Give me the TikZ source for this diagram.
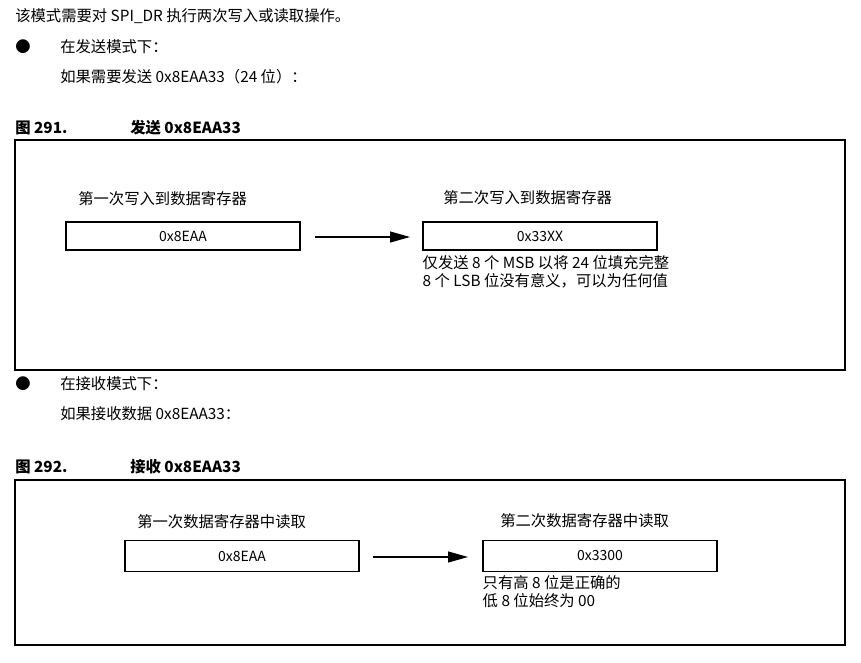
\documentclass[tikz,border=0pt]{standalone}
\usepackage{fontspec}
\setmainfont{Noto Sans CJK SC}
\usetikzlibrary{positioning,arrows.meta}
\tikzset{
  txt/.style={anchor=west,inner sep=0pt,font=\fontsize{11.5}{13}\selectfont},
  figcap/.style={anchor=west,inner sep=0pt,font=\fontsize{11.5}{13}\selectfont\bfseries},
  reg/.style={draw,thick,minimum width=234*0.75pt,minimum height=28*0.75pt,inner sep=0pt,font=\fontsize{10.5}{12}\selectfont},
  frame/.style={draw,thick},
  flow/.style={thick,-{Triangle[length=20*0.75pt,width=11*0.75pt]}}
}
\begin{document}
\begin{tikzpicture}[x=0.75pt,y=-0.75pt]
    \useasboundingbox (0,0) rectangle (861,663);
    % Intro text.
    \node[txt] (intro) at (15,16) {该模式需要对 SPI\_DR 执行两次写入或读取操作。};
    \node[txt] (dotA) at (15,47) {●};
    \node[txt] (modeA) at (60,47) {在发送模式下：};
    \node[txt] (sendA) at (60,77) {如果需要发送 0x8EAA33（24 位）：};

    % Figure 291.
    \node[figcap] (figA) at (15,128) {图 291.};
    \node[figcap] (titleA) at (130,128) {发送 0x8EAA33};
    \draw[frame] (15,140) rectangle (845,370);
    \node[reg] (wrA) at (183,236) {0x8EAA};
    \node[reg] (wrB) at (540,236) {0x33XX};
    \node[txt] at (78,199) {第一次写入到数据寄存器};
    \node[txt] at (443,198) {第二次写入到数据寄存器};
    \node[txt,below=5*0.75pt of wrB.south west,anchor=north west] (noteA) {仅发送 8 个 MSB 以将 24 位填充完整};
    \node[txt,below=3*0.75pt of noteA.south west,anchor=north west] (noteB) {8 个 LSB 位没有意义，可以为任何值};
    \coordinate (arA) at (315,237);
    \coordinate (arB) at (410,237);
    \draw[flow] (arA) -- (arB);

    % Receive text.
    \node[txt] (dotB) at (15,384) {●};
    \node[txt] (modeB) at (60,384) {在接收模式下：};
    \node[txt] (recvB) at (60,414) {如果接收数据 0x8EAA33：};

    % Figure 292.
    \node[figcap] (figB) at (15,467) {图 292.};
    \node[figcap] (titleB) at (130,467) {接收 0x8EAA33};
    \draw[frame] (15,480) rectangle (845,645);
    \node[reg,minimum height=31*0.75pt] (rdA) at (242,556) {0x8EAA};
    \node[reg,minimum height=31*0.75pt] (rdB) at (600,556) {0x3300};
    \node[txt] at (137,522) {第一次数据寄存器中读取};
    \node[txt] at (500,521) {第二次数据寄存器中读取};
    \node[txt,below=3*0.75pt of rdB.south west,anchor=north west] (noteC) {只有高 8 位是正确的};
    \node[txt,below=3*0.75pt of noteC.south west,anchor=north west] (noteD) {低 8 位始终为 00};
    \coordinate (arC) at (373,557);
    \coordinate (arD) at (468,557);
    \draw[flow] (arC) -- (arD);
\end{tikzpicture}
\end{document}
